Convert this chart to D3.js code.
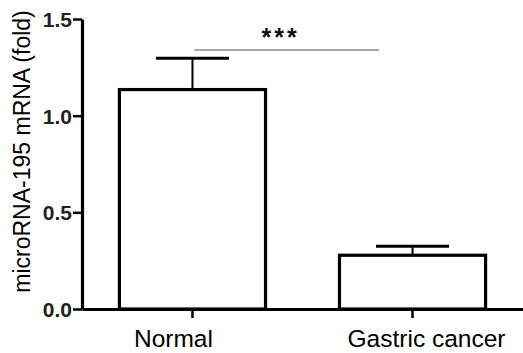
<!DOCTYPE html>
<html>
<head>
<meta charset="utf-8">
<script src="https://cdn.jsdelivr.net/npm/d3@7"></script>
<style>
  body { margin: 0; background: #fff; }
  svg { display: block; font-family: "Liberation Sans", Arial, sans-serif; }
</style>
</head>
<body>
<div id="chart"></div>
<script>
// data
const groups = ['Normal', 'Gastric cancer'];
const means = [1.135, 0.278];
const errors = [0.162, 0.046];
const yTicks = [0.0, 0.5, 1.0, 1.5];
const sigLevel = 1.34; // height of the significance bracket
const sigText = '***';

const width = 523;
const height = 353;
const margin = { top: 19, right: 0, bottom: 44, left: 82 };
// the labels in the figure sit a bit off their ticks
const labelShift = { 'Normal': -19, 'Gastric cancer': 14 };

const svg = d3.select('#chart')
  .append('svg')
  .attr('width', width)
  .attr('height', height);

const x = d3.scaleBand()
  .domain(groups)
  .range([margin.left, width - margin.right])
  .paddingInner(0.336)
  .paddingOuter(0.17);

const y = d3.scaleLinear()
  .domain([0, 1.5])
  .range([height - margin.bottom, margin.top]);

const bw = x.bandwidth();

// bars
svg.selectAll('.bar')
  .data(groups)
  .enter()
  .append('rect')
  .attr('class', 'bar')
  .attr('x', (d) => x(d))
  .attr('y', (d, i) => y(means[i]))
  .attr('width', bw)
  .attr('height', (d, i) => y(0) - y(means[i]))
  .style('fill', '#fff')
  .style('stroke', '#000')
  .style('stroke-width', 3.2);

// error bars (upper only)
const err = svg.selectAll('.err')
  .data(groups)
  .enter()
  .append('g')
  .attr('class', 'err');

err.append('line')
  .attr('x1', (d) => x(d) + bw / 2)
  .attr('x2', (d) => x(d) + bw / 2)
  .attr('y1', (d, i) => y(means[i]))
  .attr('y2', (d, i) => y(means[i] + errors[i]))
  .style('stroke', '#000')
  .style('stroke-width', 2);

err.append('line')
  .attr('x1', (d) => x(d) + bw / 4)
  .attr('x2', (d) => x(d) + bw * 3 / 4)
  .attr('y1', (d, i) => y(means[i] + errors[i]))
  .attr('y2', (d, i) => y(means[i] + errors[i]))
  .style('stroke', '#000')
  .style('stroke-width', 3);

// y axis
const yAxis = d3.axisLeft(y)
  .tickValues(yTicks)
  .tickFormat(d3.format('.1f'))
  .tickSizeInner(9)
  .tickSizeOuter(0)
  .tickPadding(1);

const gy = svg.append('g')
  .attr('class', 'y axis')
  .attr('transform', `translate(${margin.left},0)`)
  .call(yAxis);

gy.select('.domain').style('stroke', '#000').style('stroke-width', 3.2);
gy.selectAll('.tick line').style('stroke', '#000').style('stroke-width', 2.5);
gy.selectAll('.tick text')
  .style('font-size', '21px')
  .style('font-weight', 'bold')
  .style('fill', '#222')
  .attr('dy', '0.36em');

// x axis
const xAxis = d3.axisBottom(x)
  .tickSizeInner(9)
  .tickSizeOuter(0)
  .tickPadding(12);

const gx = svg.append('g')
  .attr('class', 'x axis')
  .attr('transform', `translate(0,${y(0)})`)
  .call(xAxis);

gx.select('.domain').style('stroke', '#000').style('stroke-width', 3.2);
gx.selectAll('.tick line').style('stroke', '#000').style('stroke-width', 2.5);
gx.selectAll('.tick text')
  .attr('dx', (d) => labelShift[d])
  .style('font-size', '24.5px')
  .style('fill', '#000');

// y label
svg.append('text')
  .attr('transform', 'rotate(-90)')
  .attr('x', -151.5)
  .attr('y', 30)
  .style('text-anchor', 'middle')
  .style('font-size', '23px')
  .style('fill', '#000')
  .text('microRNA-195 mRNA (fold)');

// significance bracket
const sx1 = x(groups[0]) + bw / 2 + 2;
const sx2 = x(groups[1]) + bw * 0.27;
svg.append('line')
  .attr('x1', sx1)
  .attr('x2', sx2)
  .attr('y1', y(sigLevel))
  .attr('y2', y(sigLevel))
  .style('stroke', '#888')
  .style('stroke-width', 1.5);

svg.append('text')
  .attr('x', (sx1 + sx2) / 2 - 6)
  .attr('y', y(sigLevel) - 4)
  .style('text-anchor', 'middle')
  .style('font-size', '25px')
  .style('font-weight', 'bold')
  .style('letter-spacing', '3px')
  .style('fill', '#111')
  .text(sigText);
</script>
</body>
</html>
